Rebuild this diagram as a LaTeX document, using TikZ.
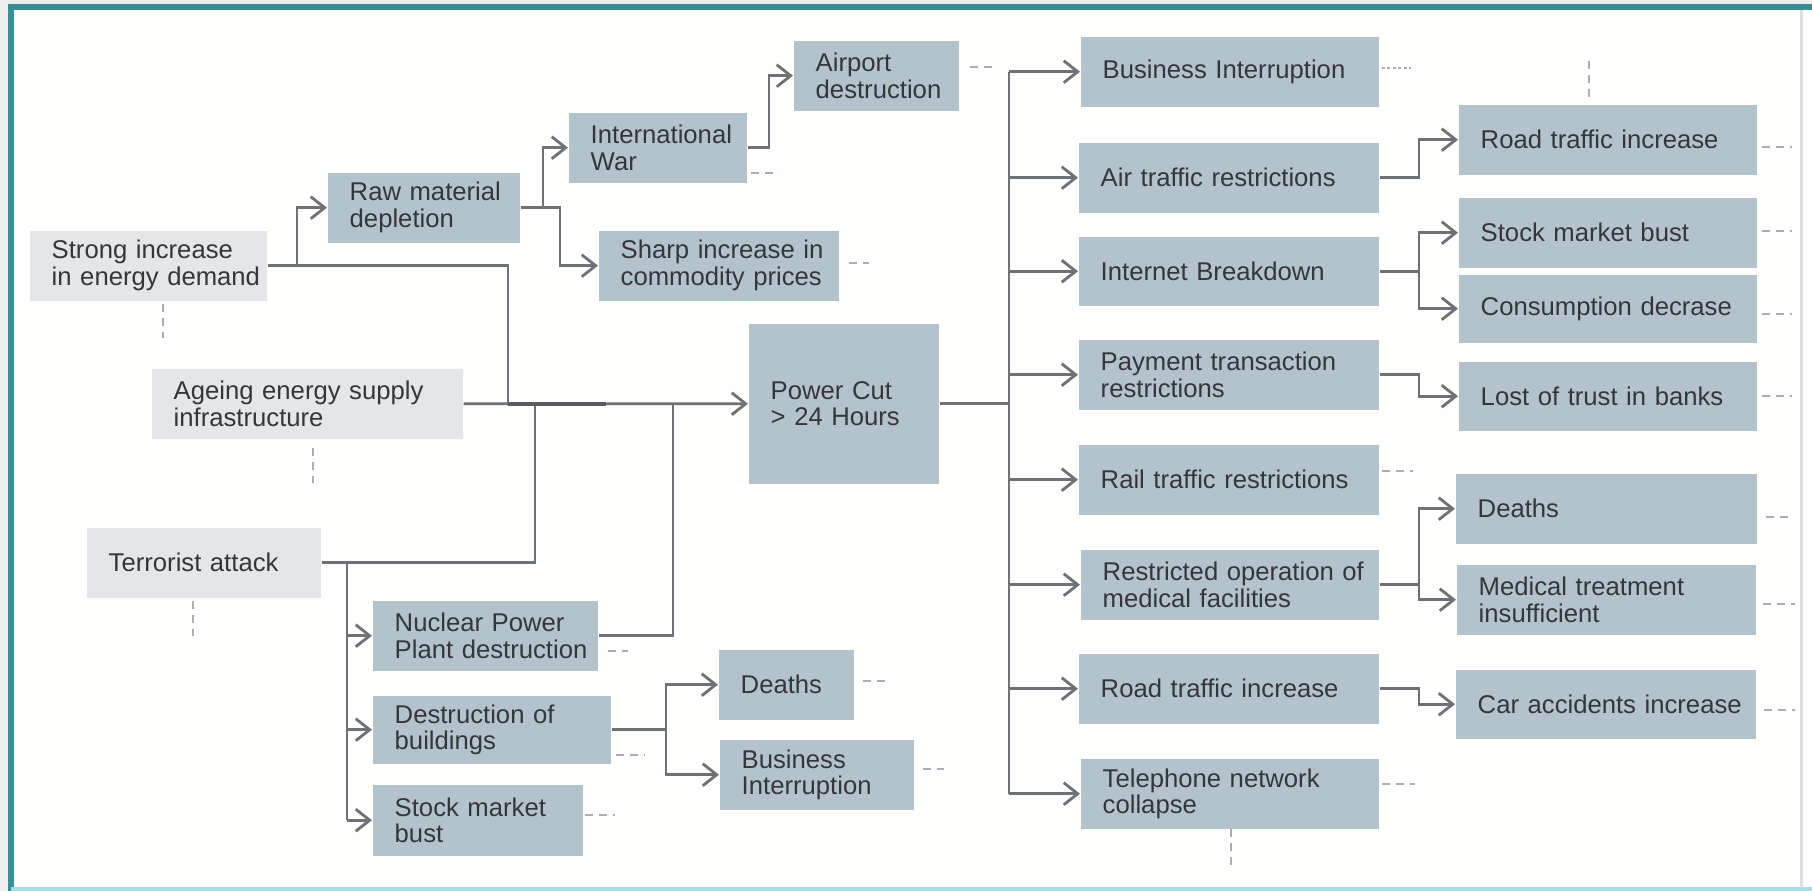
\documentclass[tikz,border=0pt]{standalone}
\usepackage{fontspec}
\setmainfont{Liberation Sans}
\usepackage{xcolor}
\usepackage{tikz}
\usetikzlibrary{arrows.meta,positioning}
\definecolor{frameteal}{HTML}{3A8D97}
\definecolor{framepale}{HTML}{A8DCE3}
\definecolor{outergrey}{HTML}{EDEFEF}
\definecolor{paperwhite}{HTML}{FEFEFD}
\definecolor{effectfill}{HTML}{B4C2CB}
\definecolor{causefill}{HTML}{E3E7EA}
\definecolor{inktext}{HTML}{33373B}
\definecolor{linkgrey}{HTML}{6C7276}
\definecolor{joindark}{HTML}{555C61}
\definecolor{stubgrey}{HTML}{A9AEB2}
\newcommand{\evfont}{\fontsize{7.3}{7.6}\selectfont}
\tikzset{
  evbox/.style={anchor=north west, inner xsep=0pt, inner ysep=0pt, text width=#1, minimum height=0.70cm, align=left, font=\evfont, text=inktext, execute at begin node={\leftskip=0.22cm}},
  causebox/.style={evbox=#1, fill=causefill},
  effectbox/.style={evbox=#1, fill=effectfill},
  link/.style={-{Straight Barb[length=1.4mm, width=2.2mm]}, line width=0.8pt, draw=linkgrey},
  joinline/.style={line width=0.8pt, draw=linkgrey},
  thickjoin/.style={line width=1.15pt, draw=joindark},
  stub/.style={line width=0.6pt, draw=stubgrey, dash pattern=on 0.08cm off 0.06cm},
  dotstub/.style={line width=0.6pt, draw=stubgrey, dash pattern=on 0.03cm off 0.025cm}
}

\begin{document}
\begin{tikzpicture}[x=0.01cm, y=-0.01cm]
  \useasboundingbox (0,0) rectangle (1812,891);
  % frame
  \fill[outergrey] (0,0) rectangle (1812,891);
  \fill[paperwhite] (11,7) rectangle (1812,891);
  \draw[frameteal, line width=0.06cm] (11,891) -- (11,7) -- (1812,7);
  \draw[framepale, line width=0.04cm] (11,889) -- (1812,889);
  \draw[stubgrey!40, line width=0.03cm] (1801,10) -- (1801,887);

  % causes
  \node[causebox=2.37cm] (demand) at (29,230) {Strong increase\\in energy demand};
  \node[causebox=3.11cm] (ageing) at (151,368) {Ageing energy supply\\infrastructure};
  \node[causebox=2.34cm] (terror) at (86,527) {Terrorist attack};

  % middle
  \node[effectbox=1.92cm] (rawmat) at (327,172) {Raw material\\depletion};
  \node[effectbox=1.78cm] (war) at (568,112) {International\\War};
  \node[effectbox=1.65cm] (airport) at (793,40) {Airport\\destruction};
  \node[effectbox=2.40cm] (prices) at (598,230) {Sharp increase in\\commodity prices};
  \node[effectbox=1.90cm, minimum height=1.60cm] (powercut) at (748,323) {Power Cut\\> 24 Hours};
  \node[effectbox=2.25cm] (nuclear) at (372,600) {Nuclear Power\\Plant destruction};
  \node[effectbox=2.38cm, minimum height=0.68cm] (buildings) at (372,695) {Destruction of\\buildings};
  \node[effectbox=2.10cm, minimum height=0.71cm] (stockfall) at (372,784) {Stock market\\bust};
  \node[effectbox=1.35cm] (deathsbld) at (718,649) {Deaths};
  \node[effectbox=1.94cm] (busbld) at (719,739) {Business\\Interruption};

  % consequences of the power cut
  \node[effectbox=2.98cm] (business) at (1080,36) {Business Interruption};
  \node[effectbox=3.00cm] (airtraffic) at (1078,142) {Air traffic restrictions};
  \node[effectbox=3.00cm, minimum height=0.69cm] (internet) at (1078,236) {Internet Breakdown};
  \node[effectbox=3.00cm] (payment) at (1078,339) {Payment transaction\\restrictions};
  \node[effectbox=3.00cm] (rail) at (1078,444) {Rail traffic restrictions};
  \node[effectbox=2.98cm] (medical) at (1080,549) {Restricted operation of\\medical facilities};
  \node[effectbox=3.00cm] (road) at (1078,653) {Road traffic increase};
  \node[effectbox=2.98cm] (phone) at (1080,758) {Telephone network\\collapse};

  \node[effectbox=2.98cm] (roadmore) at (1458,104) {Road traffic increase};
  \node[effectbox=2.98cm] (stockbust) at (1458,197) {Stock market bust};
  \node[effectbox=2.98cm, minimum height=0.68cm] (consume) at (1458,274) {Consumption decrase};
  \node[effectbox=2.98cm, minimum height=0.69cm] (trust) at (1458,361) {Lost of trust in banks};
  \node[effectbox=3.01cm] (deathsmed) at (1455,473) {Deaths};
  \node[effectbox=2.99cm] (treatment) at (1456,564) {Medical treatment\\insufficient};
  \node[effectbox=3.00cm, minimum height=0.69cm] (caracc) at (1455,669) {Car accidents increase};

  % junction columns
  \coordinate (jraw) at (297,0);
  \coordinate (jdemand) at (508,0);
  \coordinate (jterror) at (535,0);
  \coordinate (jthick) at (606,0);
  \coordinate (jnuclear) at (673,0);
  \coordinate (jwar) at (543,0);
  \coordinate (jprices) at (560,0);
  \coordinate (jairport) at (769,0);
  \coordinate (jfall) at (347,0);
  \coordinate (jbuild) at (666,0);
  \coordinate (jbus) at (1009,0);
  \coordinate (jright) at (1419,0);

  % into the power cut
  \draw[link] (demand.east) -- (demand.east -| jraw) |- (rawmat.west);
  \draw[joinline] (demand.east) -| (jdemand |- ageing.east);
  \draw[joinline] (terror.east) -| (jterror |- ageing.east);
  \draw[joinline] (nuclear.east) -| (jnuclear |- ageing.east);
  \draw[link] (ageing.east) -- (powercut.west);
  \draw[thickjoin] (jdemand |- ageing.east) -- (jthick |- ageing.east);

  \draw[link] (rawmat.east) -- (rawmat.east -| jwar) |- (war.west);
  \draw[link] (rawmat.east) -- (rawmat.east -| jprices) |- (prices.west);
  \draw[link] (war.east) -- (war.east -| jairport) |- (airport.west);

  \draw[joinline] (terror.east -| jfall) -- (jfall |- stockfall.west);
  \foreach \n in {nuclear,buildings,stockfall}
    \draw[link] (jfall |- \n.west) -- (\n.west);
  \draw[link] (buildings.east) -- (buildings.east -| jbuild) |- (deathsbld.west);
  \draw[link] (buildings.east -| jbuild) |- (busbld.west);

  % out of the power cut
  \draw[joinline] (powercut.east) -- (powercut.east -| jbus);
  \draw[joinline] (jbus |- business.west) -- (jbus |- phone.west);
  \foreach \n in {business,airtraffic,internet,payment,rail,medical,road,phone}
    \draw[link] (jbus |- \n.west) -- (\n.west);
  \draw[link] (airtraffic.east) -- (airtraffic.east -| jright) |- (roadmore.west);
  \draw[link] (internet.east) -- (internet.east -| jright) |- (stockbust.west);
  \draw[link] (internet.east -| jright) |- (consume.west);
  \draw[link] (payment.east) -- (payment.east -| jright) |- (trust.west);
  \draw[link] (medical.east) -- (medical.east -| jright) |- (deathsmed.west);
  \draw[link] (medical.east -| jright) |- (treatment.west);
  \draw[link] (road.east) -- (road.east -| jright) |- (caracc.west);

  % open ends
  \draw[stub] ([xshift=0.10cm,yshift=0.09cm]airport.east) -- ++(0.22cm,0cm);
  \draw[stub] ([xshift=0.03cm,yshift=0.10cm]war.south east) -- ++(0.28cm,0cm);
  \draw[stub] ([xshift=0.09cm,yshift=0.03cm]prices.east) -- ++(0.20cm,0cm);
  \draw[dotstub] ([xshift=0.02cm,yshift=0.04cm]business.east) -- ++(0.29cm,0cm);
  \draw[stub] ([xshift=-0.19cm,yshift=0.07cm]roadmore.north) -- ++(0cm,0.37cm);
  \draw[stub] ([xshift=0.04cm,yshift=-0.07cm]roadmore.east) -- ++(0.30cm,0cm);
  \draw[stub] ([xshift=0.04cm,yshift=0.02cm]stockbust.east) -- ++(0.30cm,0cm);
  \draw[stub] ([xshift=0.04cm,yshift=-0.05cm]consume.east) -- ++(0.30cm,0cm);
  \draw[stub] ([xshift=0.04cm]trust.east) -- ++(0.30cm,0cm);
  \draw[stub] ([xshift=0.08cm,yshift=-0.08cm]deathsmed.east) -- ++(0.23cm,0cm);
  \draw[stub] ([xshift=0.06cm,yshift=-0.04cm]treatment.east) -- ++(0.32cm,0cm);
  \draw[stub] ([xshift=0.07cm,yshift=-0.06cm]caracc.east) -- ++(0.31cm,0cm);
  \draw[stub] ([xshift=0.02cm,yshift=0.09cm]rail.east) -- ++(0.31cm,0cm);
  \draw[stub] ([xshift=0.02cm,yshift=0.10cm]phone.east) -- ++(0.33cm,0cm);
  \draw[stub] ([xshift=0.01cm]phone.south) -- ++(0cm,-0.37cm);
  \draw[stub] ([xshift=0.145cm,yshift=-0.03cm]demand.south) -- ++(0cm,-0.34cm);
  \draw[stub] ([xshift=0.055cm,yshift=-0.09cm]ageing.south) -- ++(0cm,-0.35cm);
  \draw[stub] ([xshift=-0.11cm,yshift=-0.03cm]terror.south) -- ++(0cm,-0.35cm);
  \draw[stub] ([xshift=0.09cm,yshift=-0.15cm]nuclear.east) -- ++(0.20cm,0cm);
  \draw[stub] ([xshift=0.04cm,yshift=-0.25cm]buildings.east) -- ++(0.29cm,0cm);
  \draw[stub] ([xshift=0.01cm,yshift=0.05cm]stockfall.east) -- ++(0.30cm,0cm);
  \draw[stub] ([xshift=0.08cm,yshift=0.04cm]deathsbld.east) -- ++(0.23cm,0cm);
  \draw[stub] ([xshift=0.08cm,yshift=0.06cm]busbld.east) -- ++(0.21cm,0cm);
\end{tikzpicture}
\end{document}
